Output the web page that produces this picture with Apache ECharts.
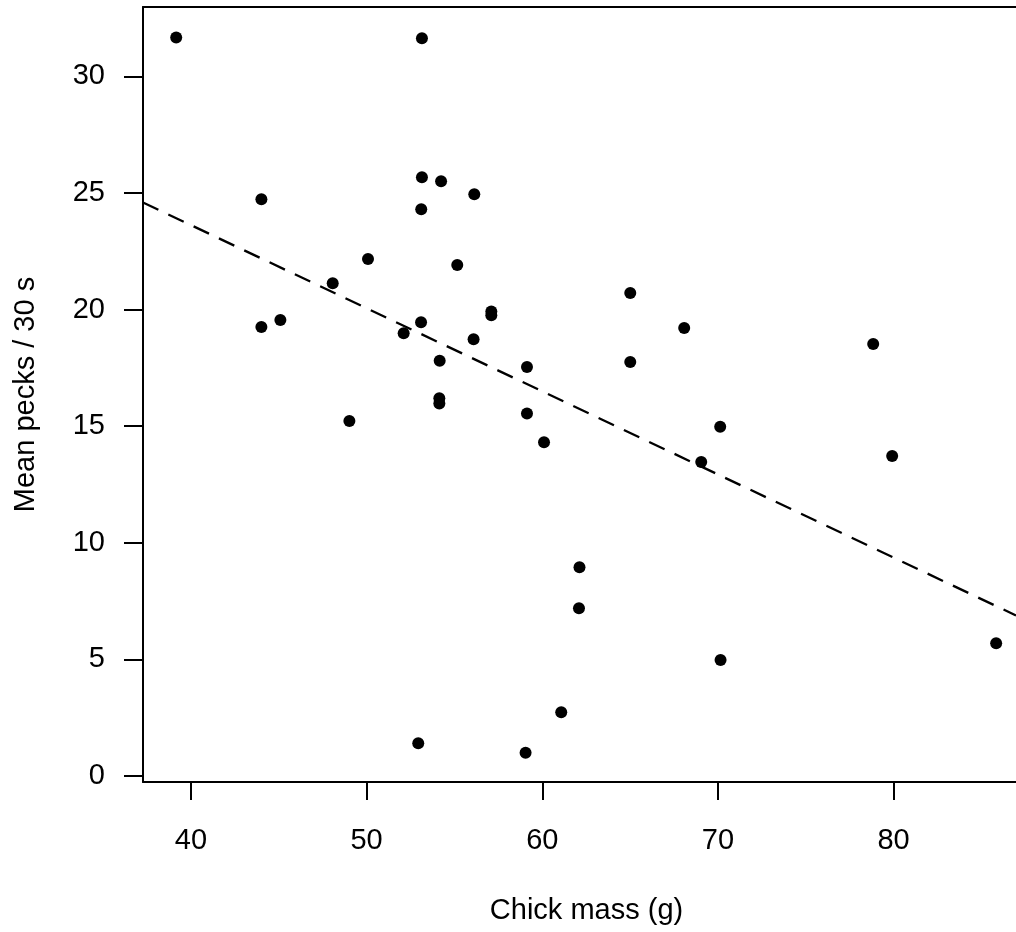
<!DOCTYPE html>
<html>
<head>
<meta charset="utf-8">
<title>Chick mass vs pecking rate</title>
<script src="https://cdn.jsdelivr.net/npm/echarts@6/dist/echarts.min.js"></script>
<style>
  html, body { margin: 0; padding: 0; background: #fff; }
  #chart { width: 1016px; height: 932px; }
</style>
</head>
<body>
<div id="chart"></div>
<script>
// Chick mass (g) for each chick
const chickMass = [
  39.16, 53.15, 44.01, 53.15, 54.24, 56.13, 53.11, 50.08, 55.16, 48.07,
  57.10, 57.10, 44.01, 45.09, 53.10, 52.11, 56.09, 54.16, 59.13, 54.14,
  54.14, 49.02, 59.13, 60.10, 62.12, 62.09, 61.08, 52.94, 59.05, 65.01,
  65.01, 68.08, 70.13, 69.05, 70.15, 78.84, 79.92, 85.84
];
// Mean number of pecks per 30 s for the same chicks
const meanPecks = [
  31.66, 31.63, 24.73, 25.67, 25.50, 24.94, 24.30, 22.17, 21.91, 21.13,
  19.92, 19.75, 19.25, 19.55, 19.45, 18.98, 18.73, 17.80, 17.54, 16.20,
  15.97, 15.22, 15.54, 14.31, 8.95, 7.19, 2.73, 1.40, 1.00, 20.71,
  17.75, 19.21, 14.97, 13.46, 4.97, 18.52, 13.72, 5.69
];
// Fitted least-squares line: pecks = intercept + slope * mass
const fitIntercept = 37.87;
const fitSlope = -0.3563;

// Axis extents and tick labels
const xRange = [37.27, 86.97];
const yRange = [-0.257, 32.97];
const xTicks = [40, 50, 60, 70, 80];
const yTicks = [0, 5, 10, 15, 20, 25, 30];

const points = chickMass.map((m, i) => [m, meanPecks[i]]);
const fitLine = xRange.map(x => [x, fitIntercept + fitSlope * x]);

const font = '"Liberation Sans", Arial, Helvetica, sans-serif';
const black = '#000';
const frame = { show: true, onZero: false, lineStyle: { color: black, width: 2 } };

const chart = echarts.init(document.getElementById('chart'), null, { renderer: 'canvas' });
chart.setOption({
  animation: false,
  backgroundColor: '#fff',
  grid: { left: 143, top: 7, right: 0, bottom: 150 },
  xAxis: [
    {
      type: 'value',
      position: 'bottom',
      min: xRange[0], max: xRange[1],
      name: 'Chick mass (g)',
      nameLocation: 'middle',
      nameGap: 114,
      nameTextStyle: { fontFamily: font, fontSize: 29, color: black, padding: [0, 0, 0, 14] },
      axisLine: frame,
      axisTick: {
        show: true, inside: false, length: 18,
        customValues: xTicks,
        lineStyle: { color: black, width: 2 }
      },
      axisLabel: {
        customValues: xTicks,
        margin: 44,
        fontFamily: font, fontSize: 29, color: black
      },
      splitLine: { show: false }
    },
    {
      // top edge of the plotting frame
      type: 'value',
      position: 'top',
      min: xRange[0], max: xRange[1],
      axisLine: frame,
      axisTick: { show: false },
      axisLabel: { show: false },
      splitLine: { show: false }
    }
  ],
  yAxis: {
    type: 'value',
    min: yRange[0], max: yRange[1],
    name: 'Mean pecks / 30 s',
    nameLocation: 'middle',
    nameGap: 103,
    nameRotate: 90,
    nameTextStyle: { fontFamily: font, fontSize: 29, color: black },
    axisLine: frame,
    axisTick: {
      show: true, inside: false, length: 19,
      customValues: yTicks,
      lineStyle: { color: black, width: 2 }
    },
    axisLabel: {
      customValues: yTicks,
      margin: 38,
      fontFamily: font, fontSize: 29, color: black
    },
    splitLine: { show: false }
  },
  series: [
    {
      type: 'line',
      data: fitLine,
      showSymbol: false,
      clip: true,
      lineStyle: { color: black, width: 2.3, type: [17, 11] },
      silent: true
    },
    {
      type: 'scatter',
      data: points,
      symbol: 'circle',
      symbolSize: 12,
      itemStyle: { color: black, opacity: 1 },
      silent: true
    }
  ]
});
</script>
</body>
</html>
